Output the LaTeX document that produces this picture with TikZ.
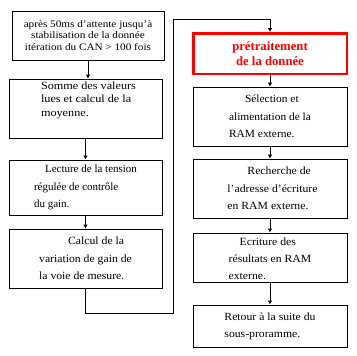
\documentclass[tikz,border=0pt]{standalone}
\usepackage{fontspec}
\setmainfont{Liberation Serif}
\usetikzlibrary{positioning,arrows.meta,calc}

% font of the step boxes: size, baselineskip, horizontal stretch
\newcommand{\stepfont}[3]{\fontsize{#1}{#2}\selectfont\addfontfeature{FakeStretch=#3}}

\tikzset{
	stepbox/.style={draw, line width=0.8pt, align=left, inner sep=0pt,
		font=\stepfont{11}{17.5}{1.065}},
	redbox/.style={draw=red, line width=2.5pt, align=center, inner sep=0pt,
		text=red, font=\fontsize{12.7}{15}\selectfont\bfseries},
	flow/.style={line width=0.8pt, -{Latex[length=4pt,width=4.5pt]}}
}

\begin{document}
\begin{tikzpicture}[x=1pt,y=1pt]
		
		\useasboundingbox (0,0) rectangle (357,-356);
		
		% left column
		\node[
		stepbox,
		align=center,
		font=\stepfont{10}{11.5}{1.12},
		minimum width=152pt,
		minimum height=49pt
		] (acq) at (88,-35.5)
		{après 50ms d'attente jusqu'à\\
			stabilisation de la donnée\\
			itération du CAN > 100 fois};
		
		\node[
		stepbox,
		font=\stepfont{11}{13.7}{1.11},
		minimum width=153pt,
		minimum height=59pt
		] (somme) at (85.5,-108.5)
		{\hspace*{6pt}Somme des valeurs\\
			\hspace*{6pt}lues et calcul de la\\
			\hspace*{6pt}moyenne.\\[5pt]};
		
		\node[
		stepbox,
		font=\stepfont{11}{17.5}{1.0},
		minimum width=153pt,
		minimum height=55pt
		] (lecture) at (85.5,-187.5)
		{\hspace*{11pt}Lecture de la tension\\
			régulée de contrôle\\
			du gain.};
		
		\node[
		stepbox,
		minimum width=153pt,
		minimum height=59pt
		] (calcul) at (85.5,-258.5)
		{\hspace*{29pt}Calcul de la\\
			variation de gain de\\
			la voie de mesure.};
		
		% right column
		\node[
		redbox,
		minimum width=153.5pt,
		minimum height=40.5pt
		] (pretrait) at (270,-53.5)
		{prétraitement\\
			de la donnée};
		
		\node[
		stepbox,
		font=\stepfont{11}{17.5}{1.04},
		minimum width=154pt,
		minimum height=59pt
		] (selection) at (270,-116.5)
		{\hspace*{16pt}Sélection et\\
			alimentation de la\\
			RAM externe.};
		
		\node[
		stepbox,
		minimum width=154pt,
		minimum height=59pt
		] (recherche) at (270,-188.5)
		{\hspace*{25pt}Recherche de\\
			\hspace*{5pt}l'adresse d'écriture\\
			\hspace*{5pt}en RAM externe.};
		
		\node[
		stepbox,
		font=\stepfont{11}{17}{1.065},
		minimum width=154pt,
		minimum height=49pt
		] (ecriture) at (270,-257.5)
		{\\[-6pt]\hspace*{11pt}Ecriture des\\
			résultats en RAM\\
			externe.};
		
		\node[
		stepbox,
		font=\stepfont{11}{17}{1.065},
		minimum width=154pt,
		minimum height=42pt
		] (retour) at (270,-326)
		{Retour à la suite du\\
			sous-proramme.};
		
		% connectors
		\draw[flow] (acq.south) -- (acq.south |- somme.north);
		\draw[flow] (somme.south) -- (lecture.north);
		\draw[flow] (lecture.south) -- (calcul.north);
		
		\coordinate (loopA) at (173,-313);
		\coordinate (loopB) at (173,-19);
		\draw[flow] (calcul.south) |- (loopA) -- (loopB) -| (pretrait.north);
		
		\draw[flow] (pretrait.south) -- (selection.north);
		\draw[flow] (selection.south) -- (recherche.north);
		\draw[flow] (recherche.south) -- (ecriture.north);
		\draw[flow] (ecriture.south) -- (retour.north);
		
	\end{tikzpicture}
\end{document}
